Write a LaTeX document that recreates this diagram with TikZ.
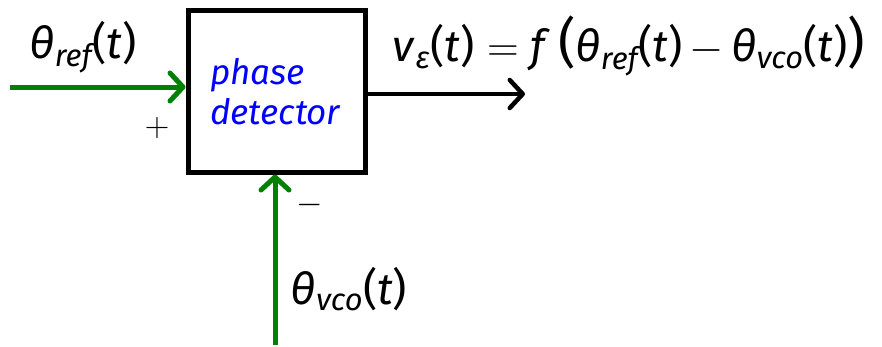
\RequirePackage{fix-cm}
\documentclass[tikz,border=0pt]{standalone}
\usepackage{amsmath}
\usepackage{fontspec}
\setmainfont{Fira Sans}
\usetikzlibrary{positioning,arrows.meta}
\definecolor{pdgreen}{RGB}{0,128,0}
\definecolor{pdblue}{RGB}{0,0,255}
\newcommand{\sig}[2]{\textit{#1}$_{\text{\itshape #2}}$(\textit{t})}

\begin{document}
\begin{tikzpicture}[x=1pt,y=-1pt,
    font=\fontsize{44}{50}\selectfont,
    blk/.style={draw=black, line width=5pt, fill=white, minimum width=177pt,
                minimum height=162pt, inner sep=0pt},
    lbl/.style={inner sep=0pt},
    inar/.style={-{Straight Barb[length=13pt,width=28pt,round]}, line width=5pt, draw=pdgreen},
    outar/.style={-{Straight Barb[length=13pt,width=28pt,round]}, line width=4.5pt, draw=black}]
  \useasboundingbox (0,0) rectangle (882,346);
  \node[blk] (pd) at (276.5,91) {};
  \node[lbl, anchor=west, text=pdblue, align=left,
        font=\fontsize{35}{40}\selectfont\itshape] (pdtxt) at (210,92) {phase\\detector};
  \coordinate (refin) at (10,87);
  \coordinate (vcoin) at (275,345);
  \coordinate (vout) at (525,94);
  \draw[inar] (refin) -- (refin -| pd.west);
  \draw[inar] (vcoin) -- (vcoin |- pd.south);
  \draw[outar] (vout -| pd.east) -- (vout);
  \node[lbl] (thref) at (83,47) {\sig{θ}{ref}};
  \node[lbl, font=\fontsize{34}{36}\selectfont] (plus) at (157,128) {$+$};
  \node[lbl, font=\fontsize{34}{36}\selectfont] (minus) at (310,205) {$-$};
  \node[lbl] (thvco) at (349,289) {\sig{θ}{vco}};
  \node[lbl] (veq) at (629,46) {\sig{v}{ε}$\;=\;$\textit{f}\,{\fontsize{54}{54}\selectfont(}\sig{θ}{ref}$\,-\,$\sig{θ}{vco}{\fontsize{54}{54}\selectfont)}};
\end{tikzpicture}
\end{document}
